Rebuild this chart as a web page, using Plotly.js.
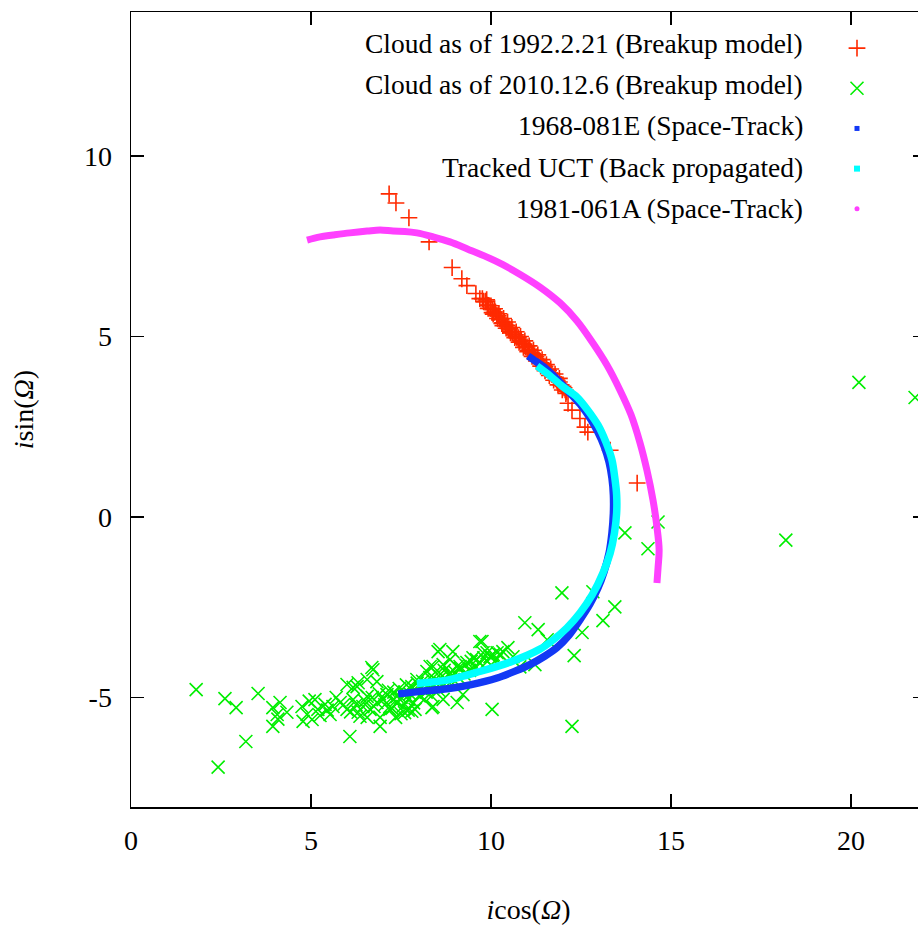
<!DOCTYPE html>
<html>
<head>
<meta charset="utf-8">
<script src="https://cdn.plot.ly/plotly-3.0.1.min.js"></script>
<style>
html,body{margin:0;padding:0;overflow:hidden;background:#fff;}
#chart{width:960px;height:927px;}
</style>
</head>
<body>
<div id="chart"></div>
<script>
// Legend labels
var labels = [
  "Cloud as of 1992.2.21 (Breakup model)",
  "Cloud as of 2010.12.6 (Breakup model)",
  "1968-081E (Space-Track)",
  "Tracked UCT (Back propagated)",
  "1981-061A (Space-Track)"
];

// Cloud as of 1992.2.21 (Breakup model)
var redX = [7.17,7.36,7.72,8.28,8.92,9.19,9.33,9.58,9.69,10.03,10.25,10.33,12.14,12.25,12.47,12.61,12.69,13.31,14.06,
  9.76,9.80,9.85,9.90,9.94,9.98,10.05,10.08,10.12,10.16,10.20,10.24,10.28,10.32,10.37,10.40,10.45,10.48,10.52,10.56,
  10.60,10.64,10.68,10.72,10.76,10.80,10.84,10.88,10.92,10.96,11.00,11.04,11.08,11.12,11.16,11.20,11.25,11.29,11.33,
  11.37,11.42,11.46,11.50,11.55,11.60,11.64,11.69,11.74,11.79,11.84,11.90,11.95,12.00,12.06,12.10,12.03,
  9.88,10.00,10.10,10.22,10.35,10.46,10.58,10.70,10.82,10.94,11.06,11.18,11.30,11.42,11.54,11.66,11.78,11.90,
  9.92,10.06,10.18,10.30,10.42,10.54,10.66,10.78,10.90,11.02,11.14,11.26,11.38,11.50,11.62,11.74,11.86,11.98,12.08];
var redY = [8.95,8.70,8.29,7.62,6.91,6.60,6.41,6.19,6.05,5.66,5.50,5.30,3.15,2.96,2.73,2.49,2.35,1.85,0.94,
  6.05,5.96,5.98,5.87,5.86,5.78,5.74,5.66,5.68,5.58,5.57,5.48,5.47,5.38,5.39,5.30,5.31,5.22,5.21,5.14,
  5.13,5.05,5.05,4.96,4.97,4.88,4.89,4.80,4.79,4.71,4.71,4.62,4.63,4.54,4.53,4.45,4.44,4.36,4.35,
  4.27,4.25,4.18,4.16,4.08,4.06,3.99,3.97,3.88,3.87,3.78,3.74,3.66,3.62,3.52,3.47,3.58,
  6.02,5.85,5.77,5.63,5.50,5.40,5.25,5.13,5.00,4.88,4.74,4.62,4.49,4.36,4.22,4.10,3.96,3.84,
  5.78,5.62,5.50,5.36,5.23,5.10,4.97,4.84,4.70,4.58,4.45,4.32,4.18,4.05,3.92,3.79,3.66,3.52,3.42];

// Cloud as of 2010.12.6 (Breakup model)
var greenX = [1.81,2.61,2.92,3.53,3.19,2.42,3.94,4.14,4.06,4.33,3.94,4.08,
  4.75,4.89,5.11,5.19,5.39,5.53,5.61,4.78,5.03,4.95,5.25,5.45,
  6.08,6.72,6.92,5.81,6.00,6.17,6.31,6.44,6.56,6.64,6.83,7.00,7.11,7.19,7.28,7.39,
  6.00,6.17,6.31,6.56,6.83,6.56,6.36,6.92,7.19,
  5.70,5.90,6.10,6.25,6.50,6.70,6.75,6.90,7.05,7.15,7.25,7.30,7.40,7.45,7.50,7.55,7.60,7.65,7.70,7.75,7.80,7.85,7.90,7.95,
  8.00,8.05,8.10,8.15,8.20,8.25,8.30,8.35,8.40,8.45,8.50,8.55,8.60,8.65,8.70,8.80,8.85,8.95,9.00,9.10,9.15,9.25,9.30,9.40,
  9.45,9.55,9.60,9.70,9.80,9.90,10.00,10.15,10.25,
  7.94,8.22,8.39,8.58,8.86,8.94,9.14,9.33,9.50,9.69,9.89,10.06,
  7.89,8.39,9.06,9.22,10.03,8.36,8.67,
  10.33,10.47,10.17,9.97,9.78,10.61,8.53,8.31,8.67,9.06,8.86,6.69,6.28,
  9.75,10.94,11.31,11.22,11.97,12.83,13.44,13.11,12.53,12.31,12.25,11.56,10.80,
  13.72,14.36,14.64,18.19,20.22,21.78,
  7.50,7.70,7.35,7.60,7.80];
var greenY = [-4.78,-5.03,-5.28,-4.89,-6.22,-6.93,-5.28,-5.14,-5.47,-5.41,-5.80,-5.60,
  -5.25,-5.47,-5.06,-5.33,-5.19,-5.47,-5.25,-5.66,-5.61,-5.10,-5.50,-5.35,
  -6.08,-4.23,-5.80,-5.14,-5.33,-5.06,-5.41,-5.25,-4.97,-5.33,-5.14,-5.06,-4.92,-5.25,-5.06,-4.97,
  -4.64,-4.72,-4.59,-4.50,-4.56,-5.55,-5.52,-5.55,-5.33,
  -5.00,-5.20,-5.40,-5.20,-5.10,-5.00,-5.25,-4.90,-5.20,-4.80,-5.30,-4.85,-5.15,-4.75,-5.00,-5.25,-4.85,-4.65,-5.05,-4.90,-4.70,-5.15,-4.80,-4.60,
  -4.95,-4.75,-4.55,-5.05,-4.85,-4.65,-4.45,-4.95,-4.70,-4.50,-4.35,-4.80,-4.60,-4.40,-4.25,-4.55,-4.35,-4.50,-4.30,-4.45,-4.20,-4.35,-4.10,-4.25,
  -4.00,-4.15,-3.95,-4.05,-3.90,-4.00,-3.85,-3.95,-3.80,
  -4.50,-4.28,-4.14,-3.67,-3.95,-3.73,-4.14,-4.03,-3.90,-3.45,-3.76,-3.81,
  -5.33,-5.25,-5.14,-4.92,-5.33,-5.28,-5.05,
  -3.73,-3.62,-3.76,-3.87,-3.76,-3.87,-3.73,-4.14,-4.09,-4.14,-4.31,-4.17,-4.70,
  -3.45,-2.93,-3.12,-4.09,-2.10,-2.07,-2.49,-2.87,-3.20,-3.84,-5.80,-3.40,-4.15,
  -0.44,-0.88,-0.14,-0.64,3.73,3.31,
  -5.45,-5.35,-5.55,-5.42,-5.38];

// 1968-081E (Space-Track)
var blueX = [7.42,8.03,8.78,9.42,10.17,10.67,11.08,11.50,11.83,12.17,12.47,12.75,12.97,13.14,13.28,13.36,13.40,13.40,13.36,13.28,13.14,12.97,12.75,12.47,12.17,11.83,11.50,11.19,11.03];
var blueY = [-4.90,-4.83,-4.76,-4.65,-4.46,-4.27,-4.09,-3.85,-3.62,-3.27,-2.85,-2.41,-1.97,-1.52,-1.00,-0.44,0.11,0.61,1.08,1.52,1.97,2.35,2.74,3.13,3.46,3.82,4.13,4.35,4.46];

// Tracked UCT (Back propagated)
var cyanX = [7.94,8.78,9.69,10.53,11.36,11.72,12.11,12.47,12.81,13.11,13.31,13.43,13.49,13.49,13.44,13.36,13.19,12.97,12.69,12.39,11.97,11.64,11.28];
var cyanY = [-4.61,-4.52,-4.28,-4.02,-3.66,-3.41,-3.07,-2.66,-2.16,-1.55,-1.00,-0.44,0.11,0.61,1.08,1.58,2.08,2.55,2.96,3.32,3.63,3.91,4.18];

// 1981-061A (Space-Track)
var magX = [4.89,5.25,5.61,6.08,6.56,6.92,7.28,7.61,7.94,8.39,8.86,9.36,9.89,10.33,10.81,11.36,11.92,12.39,12.83,13.22,13.58,13.89,14.14,14.33,14.50,14.61,14.67,14.64,14.61];
var magY = [7.67,7.76,7.81,7.87,7.92,7.95,7.92,7.91,7.87,7.76,7.62,7.42,7.20,6.99,6.72,6.37,5.93,5.43,4.82,4.21,3.52,2.83,2.05,1.30,0.47,-0.28,-0.91,-1.41,-1.83];

var xTicks = [0,5,10,15,20];
var yTicks = [-5,0,5,10];

var colRed = '#ff2a00', colGreen = '#00ee00', colBlue = '#1238f5', colCyan = '#00ffff', colMag = '#ff40ff';
var serif = '"Liberation Serif", "Times New Roman", serif';

var traces = [
  {x: redX, y: redY, mode: 'markers', type: 'scatter', name: ' ', legendgroup: 'a',
   marker: {symbol: 'cross-thin-open', size: 12, color: colRed, line: {color: colRed, width: 1.6}}},
  {x: greenX, y: greenY, mode: 'markers', type: 'scatter', name: ' ', legendgroup: 'b',
   marker: {symbol: 'x-thin-open', size: 13, color: colGreen, line: {color: colGreen, width: 1.6}}},
  {x: blueX, y: blueY, mode: 'lines', type: 'scatter', showlegend: false, legendgroup: 'c',
   line: {color: colBlue, width: 7.5, shape: 'spline', smoothing: 0.8}},
  {x: [null], y: [null], mode: 'markers', type: 'scatter', name: ' ', legendgroup: 'c',
   marker: {symbol: 'square', size: 5, color: colBlue}},
  {x: cyanX, y: cyanY, mode: 'lines', type: 'scatter', showlegend: false, legendgroup: 'd',
   line: {color: colCyan, width: 7.5, shape: 'spline', smoothing: 0.8}},
  {x: [null], y: [null], mode: 'markers', type: 'scatter', name: ' ', legendgroup: 'd',
   marker: {symbol: 'square', size: 6, color: colCyan}},
  {x: magX, y: magY, mode: 'lines', type: 'scatter', showlegend: false, legendgroup: 'e',
   line: {color: colMag, width: 7, shape: 'spline', smoothing: 1}},
  {x: [null], y: [null], mode: 'markers', type: 'scatter', name: ' ', legendgroup: 'e',
   marker: {symbol: 'circle', size: 5, color: colMag}}
];

var L = 131, R = 926, T = 12, B = 807, W = 960, H = 927;
function px2paperX(p){ return (p - L) / (R - L); }
function px2paperY(p){ return (B - p) / (B - T); }

var rowY = [44, 85, 126, 168, 209];
var annotations = labels.map(function(t, i){
  return {text: t, xref: 'paper', yref: 'paper', x: px2paperX(805), y: px2paperY(rowY[i]),
          xanchor: 'right', yanchor: 'middle', showarrow: false,
          font: {family: serif, size: 27.5, color: '#000'}};
});

var axisCommon = {
  showline: true, linecolor: '#000', linewidth: 1.5, mirror: 'ticks',
  ticks: 'inside', ticklen: 13, tickwidth: 1.5, tickcolor: '#000',
  showgrid: false, zeroline: false,
  tickfont: {family: serif, size: 28, color: '#000'}
};

var layout = {
  width: W, height: H,
  margin: {l: L, r: W - R, t: T, b: H - B},
  paper_bgcolor: '#fff', plot_bgcolor: '#fff',
  showlegend: true,
  legend: {x: px2paperX(837), y: px2paperY(23), xanchor: 'left', yanchor: 'top',
           bgcolor: 'rgba(0,0,0,0)', borderwidth: 0, traceorder: 'normal',
           font: {family: serif, size: 28.6, color: '#000'}, tracegroupgap: 0},
  xaxis: Object.assign({}, axisCommon, {
    range: [0, (R - L) / 36], tickmode: 'array', tickvals: xTicks, ticktext: xTicks.map(String),
    ticklabelstandoff: 8,
    title: {text: '<i>i</i>cos(<i>Ω</i>)', font: {family: serif, size: 28, color: '#000'}, standoff: 44}
  }),
  yaxis: Object.assign({}, axisCommon, {
    range: [-(B - 517) / 36.1, (517 - T) / 36.1], tickmode: 'array', tickvals: yTicks, ticktext: yTicks.map(String),
    ticklabelstandoff: 12,
    title: {text: '<i>i</i>sin(<i>Ω</i>)', font: {family: serif, size: 28, color: '#000'}, standoff: 42}
  }),
  annotations: annotations
};

Plotly.newPlot('chart', traces, layout, {displayModeBar: false, staticPlot: true});
</script>
</body>
</html>
